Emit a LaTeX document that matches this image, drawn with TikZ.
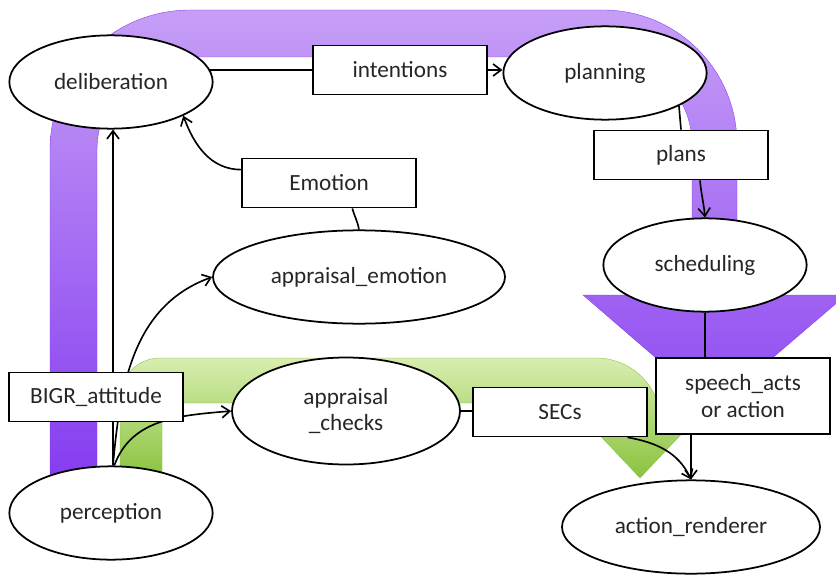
\documentclass[tikz,border=0pt]{standalone}
\usepackage{fontspec}
\setmainfont{Carlito}
\usetikzlibrary{shapes.geometric,arrows.meta}
\pgfdeclarelayer{bands}
\pgfdeclarelayer{edges}
\pgfsetlayers{bands,edges,main}
\definecolor{bandtop}{RGB}{198,158,246}
\definecolor{bandlow}{RGB}{132,58,240}
\definecolor{greentop}{RGB}{216,237,176}
\definecolor{greenlow}{RGB}{136,194,60}
\tikzset{every node/.style={font=\fontsize{19.8}{23}\selectfont, text=black!85},
  state/.style={ellipse, draw, line width=1.5pt, fill=white, minimum width=61mm, minimum height=28mm, align=center, inner sep=1pt},
  tag/.style={rectangle, draw, line width=1.5pt, fill=white, minimum width=52mm, minimum height=14.7mm, align=center},
  link/.style={line width=1.4pt},
  flow/.style={link, -{Straight Barb[length=2.4mm,width=3.6mm]}}}

\begin{document}
\begin{tikzpicture}[x=0.3mm,y=-0.3mm]
  \useasboundingbox (0,0) rectangle (836,574);
  \clip (0,0) rectangle (836,574);
  \node[state] (delib) at (111,82) {deliberation};
  \node[state] (plan) at (605,73) {planning};
  \node[state] (sched) at (705,265) {scheduling};
  \node[state,minimum width=87.6mm] (aemo) at (359,277) {appraisal\_emotion};
  \node[state,minimum width=68.4mm,minimum height=32.1mm] (checks) at (346,411) {appraisal\\\_checks};
  \node[state] (percep) at (111,513) {perception};
  \node[state,minimum width=77.4mm] (render) at (691,527) {action\_renderer};

  \node[tag] (intent) at (400,70) {intentions};
  \node[tag] (plans) at (681,155) {plans};
  \node[tag] (emo) at (329,183) {Emotion};
  \node[tag] (attitude) at (96,397) {BIGR\_attitude};
  \node[tag] (secs) at (560,412) {SECs};
  \node[tag,minimum height=22.8mm] (acts) at (743,396) {speech\_acts\\or action};

  \begin{pgfonlayer}{bands}
   \shade[top color=bandtop, bottom color=bandlow, draw=bandlow, line width=0.3pt]
     (50,490) -- (50,150) arc[start angle=180,end angle=270,radius=140] -- (603,10)
     arc[start angle=270,end angle=360,radius=134] -- (737,295) -- (846,295) -- (714,408)
     -- (583,295) -- (692,295) -- (692,144) arc[start angle=0,end angle=-90,radius=87]
     -- (190,57) arc[start angle=270,end angle=180,radius=93] -- (97,490) -- cycle;
   \shade[top color=greentop, bottom color=greenlow, draw=greenlow, line width=0.3pt]
     (120,480) -- (120,398) arc[start angle=180,end angle=270,radius=40] -- (596,358)
     arc[start angle=270,end angle=360,radius=65] -- (661,425) -- (690,425) -- (640,478)
     -- (590,425) -- (619,425) -- (619,403) -- (182,403)
     arc[start angle=270,end angle=180,radius=20] -- (162,480) -- cycle;
  \end{pgfonlayer}

  \begin{pgfonlayer}{edges}
   \draw[link] (intent.west -| delib.center) -- (intent.west);
   \draw[flow] (intent.east) -- (intent.east -| plan.west);
   \draw[link] (plan.-24) -- (plans.north);
   \draw[flow] ([xshift=5.7mm]plans.south) to[out=-85,in=95] (sched.north);
   \draw[link] (sched.south) -- (sched.south |- acts.north);
   \draw[flow] (render.north |- acts.south) -- (render.north);
   \draw[link] (checks.east) -- (checks.east -| secs.west);
   \draw[flow] ([xshift=-6mm]secs.south east) to[out=-10,in=115] (render.north);
   \draw[flow] ([yshift=4mm]emo.west) to[out=180,in=-70] (delib.-25);
   \draw[link] (aemo.north) to[out=100,in=-75] ([xshift=7mm]emo.south);
   \draw[flow] ([xshift=0.6mm]percep.north) -- ([xshift=0.6mm]delib.south);
   \draw[flow] ([xshift=0.6mm]percep.north) to[out=85,in=200] (aemo.west);
   \draw[flow] ([xshift=1mm]percep.north) to[out=70,in=185] (checks.west);
  \end{pgfonlayer}
\end{tikzpicture}
\end{document}
